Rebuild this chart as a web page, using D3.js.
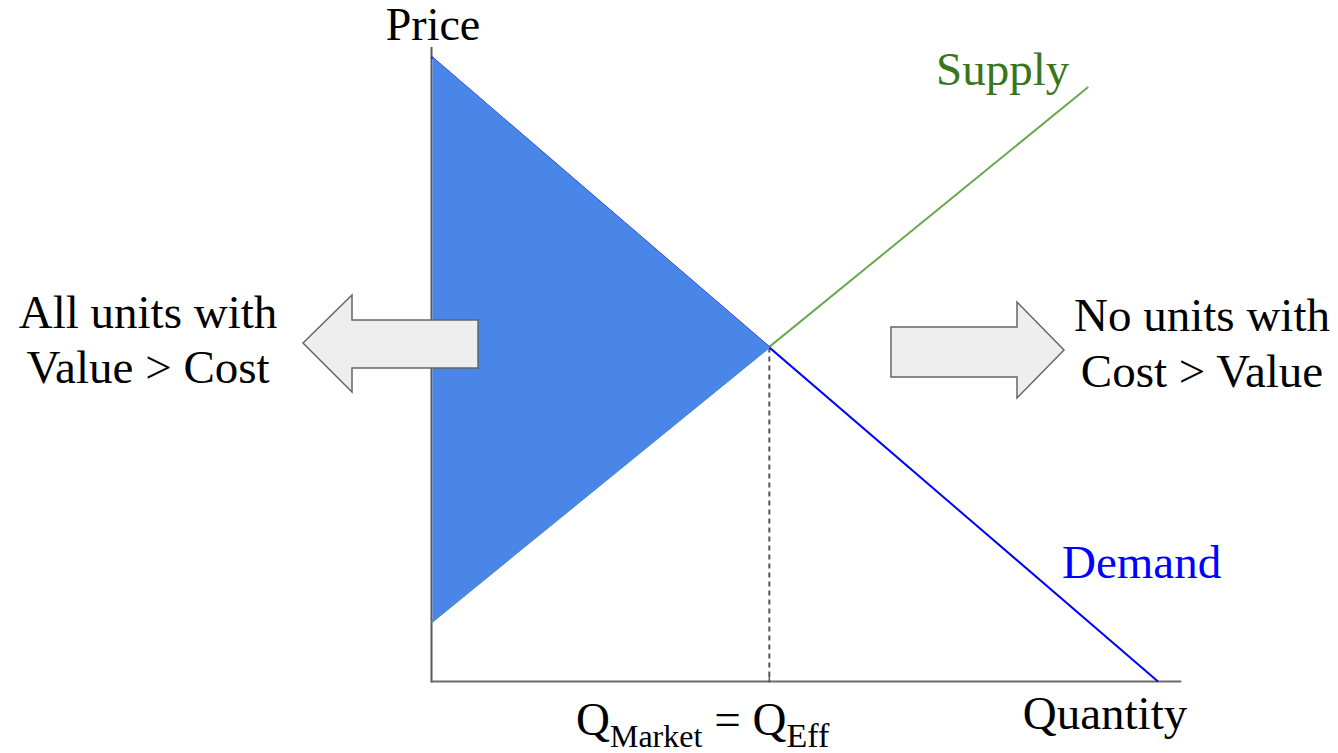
<!DOCTYPE html>
<html>
<head>
<meta charset="utf-8">
<script src="https://cdn.jsdelivr.net/npm/d3@7"></script>
<style>
  html, body { margin: 0; padding: 0; background: #fff; }
  svg { display: block; }
  text { font-family: "Liberation Serif", "Times New Roman", serif; }
</style>
</head>
<body>
<svg id="chart" width="1338" height="753"></svg>
<script>
// ---- data ----
const demandQ = [0, 10];
const demandP = [10, 0];
const supplyQ = [0, 9.04];
const supplyP = [0.95, 9.52];
const equilibrium = [4.65, 5.35];           // [Q, P]
const surplusQ = [0, 4.65, 0];
const surplusP = [10, 5.35, 0.95];
const axisMax = [10.32, 10.16];               // [Q, P] axis extents
const axisLabels = ["Price", "Quantity"];
const curveLabels = ["Supply", "Demand"];
const leftText = ["All units with", "Value > Cost"];
const rightText = ["No units with", "Cost > Value"];

// ---- scales ----
const x = d3.scaleLinear().domain([0, 10]).range([431.5, 1158]);
const y = d3.scaleLinear().domain([0, 10]).range([681.5, 57]);

const svg = d3.select("#chart");
const line = d3.line().x(d => x(d[0])).y(d => y(d[1]));

// axes
svg.append("line")
  .attr("x1", x(0)).attr("x2", x(0))
  .attr("y1", y(0) + 1).attr("y2", y(axisMax[1]))
  .attr("stroke", "#595959").attr("stroke-width", 2);
svg.append("line")
  .attr("x1", x(0)).attr("x2", x(axisMax[0]))
  .attr("y1", y(0)).attr("y2", y(0))
  .attr("stroke", "#6b6b6b").attr("stroke-width", 2);

// dashed line from equilibrium
svg.append("line")
  .attr("x1", x(equilibrium[0])).attr("x2", x(equilibrium[0]))
  .attr("y1", y(equilibrium[1])).attr("y2", y(0))
  .attr("stroke", "#555555").attr("stroke-width", 2)
  .attr("stroke-dasharray", "5,4");
svg.append("line")
  .attr("x1", x(equilibrium[0])).attr("x2", x(equilibrium[0]))
  .attr("y1", y(0) - 6).attr("y2", y(0) + 1)
  .attr("stroke", "#595959").attr("stroke-width", 1.5);

// supply line
svg.append("path")
  .attr("d", line(supplyQ.map((q, i) => [q, supplyP[i]])))
  .attr("fill", "none").attr("stroke", "#6aa84f").attr("stroke-width", 2);

// demand line
svg.append("path")
  .attr("d", line(demandQ.map((q, i) => [q, demandP[i]])))
  .attr("fill", "none").attr("stroke", "#0000ff").attr("stroke-width", 2);

// surplus triangle over the lines' left part
svg.append("path")
  .attr("d", line(surplusQ.map((q, i) => [q, surplusP[i]])) + "Z")
  .attr("transform", "translate(1,0)")
  .attr("fill", "#4a86e8");

// arrows
const leftArrow = [[303,343],[352,295],[352,320],[478,320],[478,368],[352,368],[352,392]];
const rightArrow = [[891,327],[1017,327],[1017,302],[1064,350],[1017,398],[1017,377],[891,377]];
[leftArrow, rightArrow].forEach(pts => {
  svg.append("polygon")
    .attr("points", pts.map(p => p.join(",")).join(" "))
    .attr("fill", "#eeeeee").attr("stroke", "#666666").attr("stroke-width", 1.5);
});

// texts
svg.append("text").text(axisLabels[0])
  .attr("x", 433).attr("y", 40).attr("text-anchor", "middle")
  .attr("font-size", 46).attr("fill", "#000");
svg.append("text").text(axisLabels[1])
  .attr("x", 1105).attr("y", 729).attr("text-anchor", "middle")
  .attr("font-size", 47).attr("fill", "#000");
svg.append("text").text(curveLabels[0])
  .attr("x", 936).attr("y", 85)
  .attr("font-size", 47).attr("fill", "#38761d");
svg.append("text").text(curveLabels[1])
  .attr("x", 1062).attr("y", 578)
  .attr("font-size", 47).attr("fill", "#0000ff");

leftText.forEach((t, i) => {
  svg.append("text").text(t)
    .attr("x", 148).attr("y", 328 + i * 55).attr("text-anchor", "middle")
    .attr("font-size", 47).attr("fill", "#000");
});
rightText.forEach((t, i) => {
  svg.append("text").text(t)
    .attr("x", 1202).attr("y", 331 + i * 56).attr("text-anchor", "middle")
    .attr("font-size", 47).attr("fill", "#000");
});

// Q_Market = Q_Eff
const qt = svg.append("text").attr("x", 576).attr("y", 735)
  .attr("font-size", 47).attr("fill", "#000");
qt.append("tspan").text("Q");
qt.append("tspan").text("Market").attr("font-size", 32).attr("dy", 12);
qt.append("tspan").text("= Q").attr("dy", -12).attr("dx", 12);
qt.append("tspan").text("Eff").attr("font-size", 34).attr("dy", 12);
</script>
</body>
</html>
